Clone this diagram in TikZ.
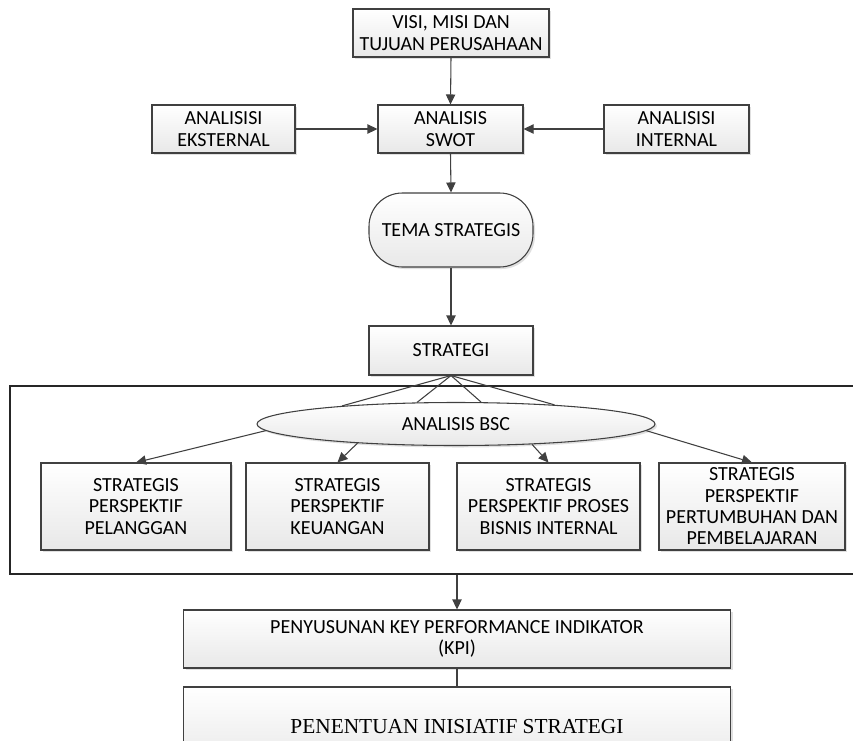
\documentclass[tikz,border=0pt]{standalone}
\usepackage{fontspec}
\setmainfont{Carlito}
\newfontfamily\hurufserif{Liberation Serif}
\usetikzlibrary{arrows.meta,shapes.geometric,shadows}

\tikzset{
	garis/.style={draw=black!75, line width=0.8pt},
	bayang/.style={drop shadow={shadow xshift=1.5pt, shadow yshift=-1.5pt, fill=black!12, opacity=1}},
	kotak/.style={rectangle, garis, bayang, top color=white, bottom color=black!9,
		align=center, inner sep=0pt, font=\fontsize{15}{16}\selectfont},
	lonjong/.style={ellipse, garis, bayang, top color=white, bottom color=black!9,
		inner sep=0pt, font=\fontsize{15}{16}\selectfont},
	panah/.style={->, draw=black!75, line width=0.8pt}
}

\begin{document}
\begin{tikzpicture}[x=0.75pt, y=-0.75pt, >={Triangle[length=7.5pt, width=7pt]}]
	\useasboundingbox (0,0) rectangle (853,740);

	% Bingkai analisis BSC
	\node[draw=black!85, line width=0.8pt, minimum width=667.5pt, minimum height=141pt, inner sep=0pt] (bingkai) at (455,480) {};

	% Bagian atas
	\node[kotak, minimum width=147pt, minimum height=36pt] (visi) at (451,33) {VISI, MISI DAN\\TUJUAN PERUSAHAAN};
	\node[kotak, minimum width=107.25pt, minimum height=36pt] (eksternal) at (223.5,129) {ANALISISI\\EKSTERNAL};
	\node[kotak, minimum width=108.75pt, minimum height=36pt] (swot) at (450.5,129) {ANALISIS\\SWOT};
	\node[kotak, minimum width=108.75pt, minimum height=36pt] (internal) at (676.5,129) {ANALISISI\\INTERNAL};
	\node[kotak, rounded corners=25pt, minimum width=123pt, minimum height=55.5pt] (tema) at (451,230) {TEMA STRATEGIS};
	\node[kotak, minimum width=123pt, minimum height=36.75pt] (strategi) at (451,350.5) {STRATEGI};

	\draw[panah] (visi.south) -- (swot.north);
	\draw[panah] (eksternal.east) -- (swot.west);
	\draw[panah] (internal.west) -- (swot.east);
	\draw[panah] (swot.south) -- (tema.north);
	\draw[panah] (tema.south) -- (strategi.north);

	% Analisis BSC dan empat perspektif
	\node[lonjong, minimum width=298.5pt, minimum height=32.25pt] (bsc) at (456,424) {ANALISIS BSC};
	\foreach \sudut in {171,151.6,41.6,11.3}
		\draw[garis] (strategi.south) -- (bsc.\sudut);

	\node[kotak, minimum width=142.5pt, minimum height=65.25pt] (pelanggan) at (136,506.5) {STRATEGIS\\PERSPEKTIF\\PELANGGAN};
	\node[kotak, minimum width=137.25pt, minimum height=65.25pt] (keuangan) at (337.5,506.5) {STRATEGIS\\PERSPEKTIF\\KEUANGAN};
	\node[kotak, minimum width=137.25pt, minimum height=65.25pt] (proses) at (548.5,506.5) {STRATEGIS\\PERSPEKTIF PROSES\\BISNIS INTERNAL};
	\node[kotak, minimum width=139.5pt, minimum height=65.25pt] (tumbuh) at (752,506.5) {STRATEGIS\\PERSPEKTIF\\PERTUMBUHAN DAN\\PEMBELAJARAN};

	\draw[panah] (bsc.182) -- (pelanggan.north);
	\draw[panah] (bsc.191.5) -- (keuangan.north);
	\draw[panah] (bsc.345) -- (proses.north);
	\draw[panah] (bsc.358.5) -- (tumbuh.north);

	% Bagian bawah
	\node[kotak, minimum width=410.25pt, minimum height=43.5pt] (kpi) at (457,639) {PENYUSUNAN KEY PERFORMANCE INDIKATOR\\(KPI)};
	\node[kotak, minimum width=410.25pt, minimum height=60pt, font=\hurufserif\fontsize{16}{18}\selectfont] (inisiatif) at (457,727) {PENENTUAN INISIATIF STRATEGI};

	\draw[panah] (kpi.north |- bingkai.south) -- (kpi.north);
	\draw[garis] (kpi.south) -- (inisiatif.north);
\end{tikzpicture}
\end{document}
